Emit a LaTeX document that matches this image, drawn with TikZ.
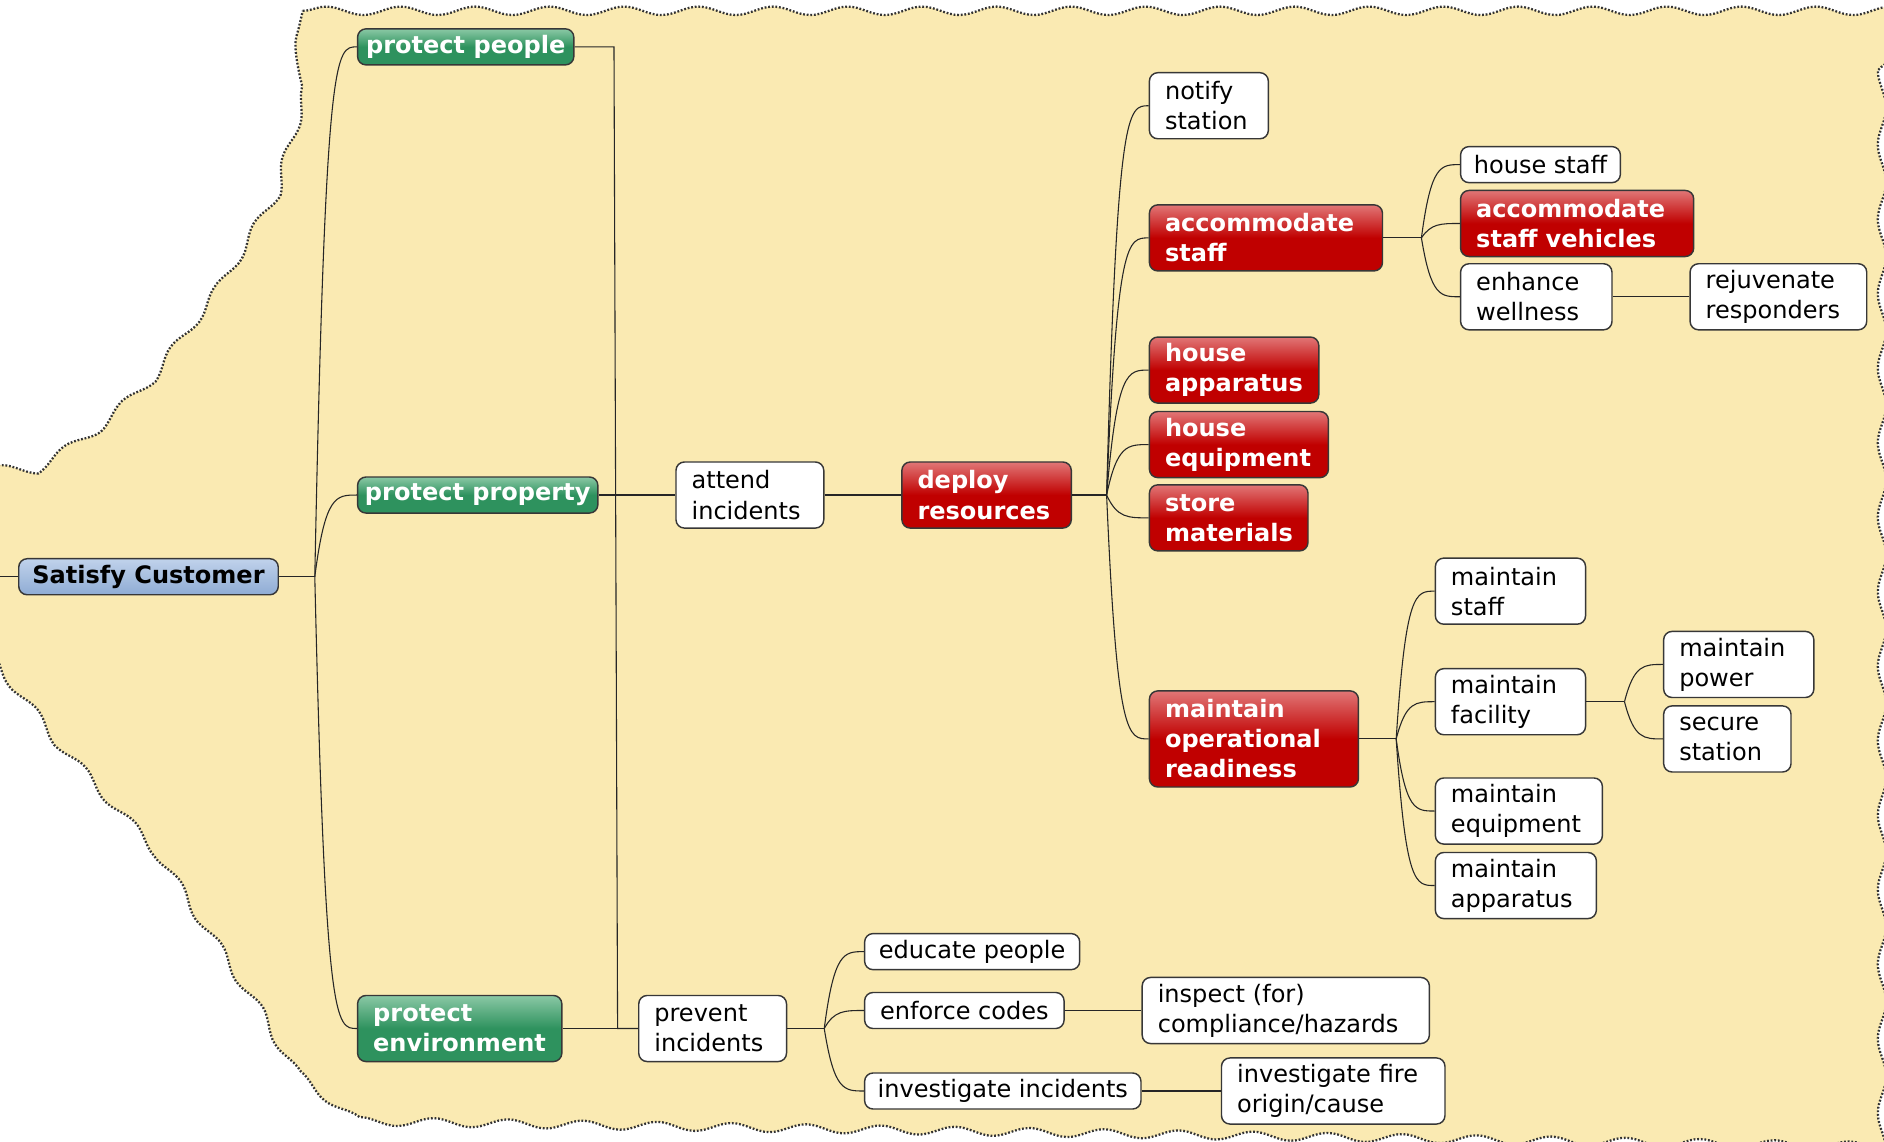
\documentclass[tikz,border=0pt]{standalone}
\usepackage{fontspec}
\setmainfont{DejaVu Sans}
\usetikzlibrary{decorations.pathmorphing,calc}

\definecolor{cloudfill}{RGB}{250,234,178}
\definecolor{redmain}{RGB}{192,0,0}
\definecolor{redtop}{RGB}{225,118,118}
\definecolor{greenmain}{RGB}{46,146,94}
\definecolor{greentop}{RGB}{138,200,165}
\definecolor{bluetop}{RGB}{192,210,235}
\definecolor{bluemain}{RGB}{143,172,212}
\definecolor{boxedge}{RGB}{55,55,55}

\tikzset{
  box/.style={draw=boxedge, line width=1.2pt, rounded corners=7pt, anchor=west,
    align=left, inner xsep=13pt, inner ysep=0pt, font=\fontsize{20}{25}\selectfont},
  plainbox/.style={box, fill=white, text=black},
  redbox/.style={box, top color=redtop, bottom color=redmain, middle color=redmain,
    text=white, font=\fontsize{20}{25}\selectfont\bfseries},
  greenbox/.style={box, top color=greentop, bottom color=greenmain, middle color=greenmain,
    text=white, font=\fontsize{20}{25}\selectfont\bfseries},
  bluebox/.style={box, top color=bluetop, bottom color=bluemain,
    text=black, font=\fontsize{20}{25}\selectfont\bfseries},
  oneline/.style={minimum height=30pt, inner xsep=6pt},
  twoline/.style={minimum height=55pt},
  threeline/.style={minimum height=80pt},
  link/.style={draw=black!85, line width=0.9pt},
  branch/.style={to path={.. controls ($(\tikztostart|-\tikztotarget)!0.25!(\tikztotarget)$)
      and ($(\tikztostart|-\tikztotarget)!0.5!(\tikztotarget)$) .. (\tikztotarget) \tikztonodes}},
  cloudedge/.style={fill=cloudfill, draw=black!80, line width=1.9pt,
    dash pattern=on 1.5pt off 1.5pt, decorate,
    decoration={snake, amplitude=3.5pt, segment length=62pt}}
}

\begin{document}
\begin{tikzpicture}[x=1pt, y=-1pt]
\useasboundingbox (0,0) rectangle (1568,950);

% background cloud
\begin{scope}
  \clip (0,0) rectangle (1568,950);
  \path[cloudedge]
    (252,9) -- (1600,9) -- (1563,50) -- (1563,947) -- (288,926)
    -- (252,898) -- (215,835) -- (130,705) -- (40,605) -- (0,553)
    -- (-40,553) -- (-40,385) -- (0,385) -- (60,345) -- (120,290)
    -- (175,215) -- (215,150) -- (240,60) -- cycle;
\end{scope}

% nodes
\node[bluebox, oneline, minimum width=216pt] (sc) at (15,480) {Satisfy~Customer};
\node[greenbox, oneline, minimum width=180pt] (pp) at (297,39) {protect~people};
\node[greenbox, oneline, minimum width=200pt] (ppr) at (297,412) {protect~property};
\node[greenbox, twoline, text width=144pt] (pe) at (297,856) {protect\\environment};

\node[plainbox, twoline, text width=97pt] (ai) at (562,412) {attend\\incidents};
\node[redbox, twoline, text width=115pt] (dr) at (750,412) {deploy\\resources};

\node[plainbox, twoline, text width=73pt] (ns) at (956,88) {notify\\station};
\node[redbox, twoline, text width=168pt] (as) at (956,198) {accommodate\\staff};
\node[redbox, twoline, text width=115pt] (ha) at (956,308) {house\\apparatus};
\node[redbox, twoline, text width=123pt] (he) at (956,370) {house\\equipment};
\node[redbox, twoline, text width=106pt] (sm) at (956,431) {store\\materials};
\node[redbox, threeline, text width=148pt] (mor) at (956,615) {maintain\\operational\\readiness};

\node[plainbox, oneline, minimum width=133pt] (hs) at (1215,137) {house~staff};
\node[redbox, twoline, text width=168pt] (asv) at (1215,186) {accommodate\\staff~vehicles};
\node[plainbox, twoline, text width=100pt] (ew) at (1215,247) {enhance\\wellness};
\node[plainbox, twoline, text width=121pt] (rr) at (1406,247) {rejuvenate\\responders};

\node[plainbox, twoline, text width=99pt] (ms) at (1194,492) {maintain\\staff};
\node[plainbox, twoline, text width=99pt] (mf) at (1194,584) {maintain\\facility};
\node[plainbox, twoline, text width=113pt] (me) at (1194,675) {maintain\\equipment};
\node[plainbox, twoline, text width=108pt] (ma) at (1194,737) {maintain\\apparatus};
\node[plainbox, twoline, text width=99pt] (mp) at (1384,553) {maintain\\power};
\node[plainbox, twoline, text width=80pt] (ss) at (1384,615) {secure\\station};

\node[plainbox, twoline, text width=97pt] (pi) at (531,856) {prevent\\incidents};
\node[plainbox, oneline, minimum width=179pt] (ep) at (719,792) {educate~people};
\node[plainbox, oneline, minimum width=166pt] (ec) at (719,841) {enforce~codes};
\node[plainbox, oneline, minimum width=230pt] (ii) at (719,908) {investigate~incidents};
\node[plainbox, twoline, text width=213pt] (ins) at (950,841) {inspect~(for)\\compliance/hazards};
\node[plainbox, twoline, text width=160pt] (ifo) at (1016,908) {investigate~fire\\origin/cause};

% junction coordinates
\coordinate (lin) at (0,480);
\coordinate (bS) at (262,480);
\coordinate (jT) at (511,39);
\coordinate (jB) at (514,856);
\coordinate (bD) at (921,412);
\coordinate (bA) at (1183,198);
\coordinate (bM) at (1162,615);
\coordinate (bF) at (1352,584);
\coordinate (bP) at (686,856);

% connectors
\draw[link] (lin) -- (sc.west);
\draw[link] (sc.east) -- (bS);
\draw[link] (bS) to[branch] (pp.west);
\draw[link] (bS) to[branch] (ppr.west);
\draw[link] (bS) to[branch] (pe.west);

\draw[link] (pp.east) -- (jT) -- (jB) -- (pi.west);
\draw[link] (ppr.east) -- (ai.west);
\draw[link] (pe.east) -- (pi.west);
\draw[link] (ai.east) -- (dr.west);

\draw[link] (dr.east) -- (bD);
\draw[link] (bD) to[branch] (ns.west);
\draw[link] (bD) to[branch] (as.west);
\draw[link] (bD) to[branch] (ha.west);
\draw[link] (bD) to[branch] (he.west);
\draw[link] (bD) to[branch] (sm.west);
\draw[link] (bD) to[branch] (mor.west);

\draw[link] (as.east) -- (bA);
\draw[link] (bA) to[branch] (hs.west);
\draw[link] (bA) to[branch] (asv.west);
\draw[link] (bA) to[branch] (ew.west);
\draw[link] (ew.east) -- (rr.west);

\draw[link] (mor.east) -- (bM);
\draw[link] (bM) to[branch] (ms.west);
\draw[link] (bM) to[branch] (mf.west);
\draw[link] (bM) to[branch] (me.west);
\draw[link] (bM) to[branch] (ma.west);

\draw[link] (mf.east) -- (bF);
\draw[link] (bF) to[branch] (mp.west);
\draw[link] (bF) to[branch] (ss.west);

\draw[link] (pi.east) -- (bP);
\draw[link] (bP) to[branch] (ep.west);
\draw[link] (bP) to[branch] (ec.west);
\draw[link] (bP) to[branch] (ii.west);
\draw[link] (ec.east) -- (ins.west);
\draw[link] (ii.east) -- (ifo.west);
\end{tikzpicture}
\end{document}
